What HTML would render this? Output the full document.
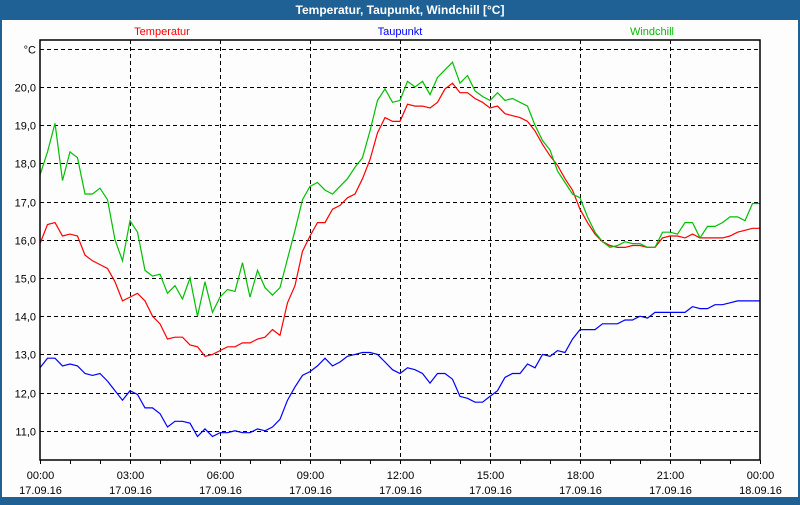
<!DOCTYPE html>
<html><head><meta charset="utf-8"><style>
body{margin:0;width:800px;height:500px;overflow:hidden;background:#1f6194;font-family:"Liberation Sans",sans-serif}
#wrap{position:absolute;left:0;top:0;width:800px;height:500px}
</style></head><body>
<div id="wrap">
<svg id="chart" width="800" height="500" xmlns="http://www.w3.org/2000/svg">
<rect x="0" y="0" width="800" height="500" fill="#1f6194"/>
<rect x="2" y="20" width="796" height="477" fill="#fcfdfc"/>
<text x="400" y="14" text-anchor="middle" fill="#fff" font-size="12" font-weight="bold">Temperatur, Taupunkt, Windchill [°C]</text>
<text x="162" y="35" text-anchor="middle" fill="#ff0000" font-size="11">Temperatur</text>
<text x="400" y="35" text-anchor="middle" fill="#0000ff" font-size="11">Taupunkt</text>
<text x="652" y="35" text-anchor="middle" fill="#00c000" font-size="11">Windchill</text>
<g id="grid"></g>
<g id="series"></g>
<rect x="40" y="40" width="720" height="420" fill="none" stroke="#000" stroke-width="1.5"/>
<g id="axes"></g>
</svg>
</div>
<script>
const yTicks = [21,20,19,18,17,16,15,14,13,12,11];
const yTickLabels = ["°C","20,0","19,0","18,0","17,0","16,0","15,0","14,0","13,0","12,0","11,0"];
const xHours = [0,3,6,9,12,15,18,21,24];
const xTimeLabels = ["00:00","03:00","06:00","09:00","12:00","15:00","18:00","21:00","00:00"];
const xDateLabels = ["17.09.16","17.09.16","17.09.16","17.09.16","17.09.16","17.09.16","17.09.16","17.09.16","18.09.16"];
const temperatur = [15.9,16.4,16.45,16.1,16.15,16.1,15.6,15.45,15.35,15.25,14.9,14.4,14.5,14.6,14.4,14.0,13.8,13.4,13.45,13.45,13.25,13.2,12.95,13.0,13.1,13.2,13.2,13.3,13.3,13.4,13.45,13.65,13.5,14.35,14.8,15.7,16.1,16.45,16.45,16.8,16.9,17.1,17.2,17.6,18.1,18.8,19.2,19.1,19.1,19.55,19.5,19.5,19.45,19.6,19.95,20.1,19.85,19.85,19.7,19.6,19.45,19.5,19.3,19.25,19.2,19.1,18.85,18.5,18.2,17.95,17.6,17.3,16.8,16.45,16.15,15.95,15.85,15.8,15.8,15.85,15.85,15.8,15.8,16.05,16.1,16.1,16.05,16.15,16.05,16.05,16.05,16.05,16.1,16.2,16.25,16.3,16.3];
const windchill = [17.7,18.3,19.05,17.55,18.3,18.15,17.2,17.2,17.35,17.05,16.0,15.45,16.5,16.2,15.2,15.05,15.1,14.6,14.8,14.45,15.0,14.0,14.9,14.1,14.5,14.7,14.65,15.4,14.5,15.2,14.75,14.55,14.75,15.5,16.25,17.05,17.4,17.5,17.3,17.2,17.4,17.6,17.9,18.15,18.85,19.65,19.95,19.6,19.65,20.15,20.0,20.15,19.8,20.25,20.45,20.65,20.1,20.3,19.9,19.75,19.65,19.85,19.65,19.7,19.6,19.5,19.0,18.6,18.35,17.8,17.5,17.2,17.1,16.6,16.2,15.95,15.8,15.85,15.95,15.9,15.9,15.8,15.8,16.2,16.2,16.15,16.45,16.45,16.05,16.35,16.35,16.45,16.6,16.6,16.5,16.95,16.95];
const taupunkt = [12.65,12.9,12.9,12.7,12.75,12.7,12.5,12.45,12.5,12.3,12.05,11.8,12.05,11.95,11.6,11.6,11.45,11.1,11.25,11.25,11.2,10.85,11.05,10.85,10.95,10.95,11.0,10.95,10.95,11.05,11.0,11.1,11.3,11.8,12.15,12.45,12.55,12.7,12.9,12.7,12.8,12.95,13.0,13.05,13.05,13.0,12.8,12.6,12.5,12.65,12.6,12.5,12.25,12.5,12.5,12.35,11.9,11.85,11.75,11.75,11.9,12.05,12.4,12.5,12.5,12.75,12.65,13.0,12.95,13.1,13.05,13.4,13.65,13.65,13.65,13.8,13.8,13.8,13.9,13.9,14.0,13.95,14.1,14.1,14.1,14.1,14.1,14.25,14.2,14.2,14.3,14.3,14.35,14.4,14.4,14.4,14.4];
const NS="http://www.w3.org/2000/svg";
function yPos(v){return 87+(20-v)*38.2;}
function xPos(h){return 40+h*30;}
function xIdx(i){return xPos(i*0.25);}
const grid=document.getElementById('grid'), axes=document.getElementById('axes'), series=document.getElementById('series');
yTicks.forEach((v,i)=>{
  const y=Math.round(yPos(v))+0.5;
  const l=document.createElementNS(NS,'line');
  l.setAttribute('x1',40);l.setAttribute('x2',760);l.setAttribute('y1',y);l.setAttribute('y2',y);
  l.setAttribute('stroke','#000');l.setAttribute('stroke-dasharray','4,3');
  
  
  grid.appendChild(l);
  const t=document.createElementNS(NS,'text');
  t.setAttribute('x',36);t.setAttribute('y',y+4);t.setAttribute('text-anchor','end');t.setAttribute('font-size','11');
  t.textContent=yTickLabels[i];
  
  
  axes.appendChild(t);
});
for(let h=0;h<=24;h++){
  const x=Math.round(xPos(h))+0.5;
  const tk=document.createElementNS(NS,'line');
  tk.setAttribute('x1',x);tk.setAttribute('x2',x);tk.setAttribute('y1',460);tk.setAttribute('y2',464);tk.setAttribute('stroke','#000');
  
  
  axes.appendChild(tk);
}
xHours.forEach((h,i)=>{
  const x=Math.round(xPos(h))+0.5;
  if(h>0&&h<24){
    const l=document.createElementNS(NS,'line');
    l.setAttribute('x1',x);l.setAttribute('x2',x);l.setAttribute('y1',40);l.setAttribute('y2',460);
    l.setAttribute('stroke','#000');l.setAttribute('stroke-dasharray','4,3');
    
    
    grid.appendChild(l);
  }
  const t=document.createElementNS(NS,'text');
  t.setAttribute('x',x);t.setAttribute('y',479);t.setAttribute('text-anchor','middle');t.setAttribute('font-size','11');
  t.textContent=xTimeLabels[i];
  
  
  axes.appendChild(t);
  const d=document.createElementNS(NS,'text');
  d.setAttribute('x',x);d.setAttribute('y',494);d.setAttribute('text-anchor','middle');d.setAttribute('font-size','11');
  d.textContent=xDateLabels[i];
  
  
  axes.appendChild(d);
});
function drawLine(arr,color,name){
  const p=document.createElementNS(NS,'polyline');
  p.setAttribute('points',arr.map((v,i)=>xIdx(i).toFixed(1)+','+yPos(v).toFixed(1)).join(' '));
  p.setAttribute('fill','none');p.setAttribute('stroke',color);p.setAttribute('stroke-width','1.2');
  
  
  series.appendChild(p);
}
drawLine(taupunkt,'#0000ff','taupunkt-line');
drawLine(temperatur,'#ff0000','temperatur-line');
drawLine(windchill,'#00c000','windchill-line');
</script>
</body></html>
